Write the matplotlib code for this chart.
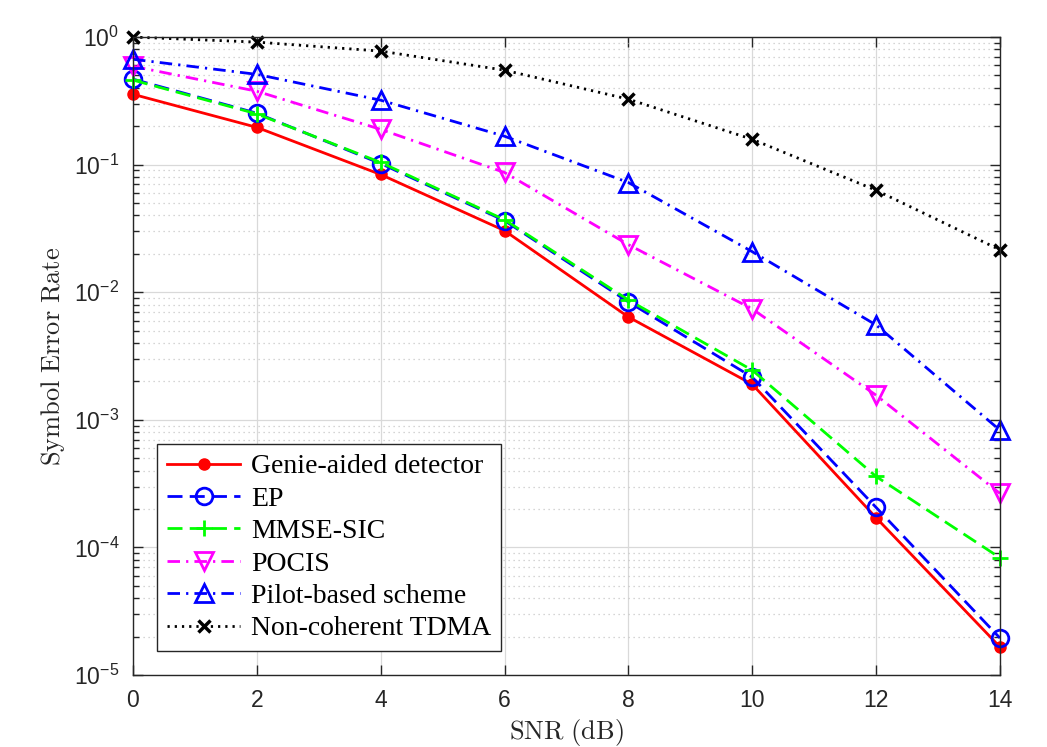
import matplotlib
matplotlib.use("Agg")
import matplotlib.pyplot as plt
import numpy as np
from matplotlib.ticker import LogLocator, NullFormatter, FixedLocator

plt.rcParams['font.family'] = ['Liberation Sans', 'DejaVu Sans']
plt.rcParams['mathtext.fontset'] = 'cm'

snr = [0, 2, 4, 6, 8, 10, 12, 14]
genie = [0.356, 0.196, 0.0837, 0.0304, 0.0064, 0.0019, 1.71e-4, 1.66e-5]
ep = [0.468, 0.253, 0.102, 0.0364, 0.0084, 0.00216, 2.06e-4, 1.95e-5]
mmse_sic = [0.46, 0.25, 0.104, 0.037, 0.0087, 0.00245, 3.6e-4, 8.3e-5]
pocis = [0.59, 0.376, 0.189, 0.0868, 0.0236, 0.0074, 0.00156, 2.65e-4]
pilot = [0.67, 0.51, 0.32, 0.167, 0.0724, 0.0208, 0.00554, 8.3e-4]
tdma = [1.0, 0.913, 0.776, 0.55, 0.326, 0.158, 0.063, 0.0215]

labels = ['Genie-aided detector', 'EP', 'MMSE-SIC', 'POCIS',
          'Pilot-based scheme', 'Non-coherent TDMA']
xticks = [0, 2, 4, 6, 8, 10, 12, 14]

fig = plt.figure(figsize=(10.47, 7.47), dpi=100)
ax = fig.add_axes([0.127, 0.0964, 0.828, 0.854])

lw = 2.0
common = dict(lw=lw, zorder=3, clip_on=False)
ax.plot(snr, genie, color='#ff0000', marker='o', ms=8,
        mfc='#ff0000', mec='#ff0000', label=labels[0], **common)
ax.plot(snr, ep, color='#0000ff', dashes=(5.4, 2.6), marker='o', ms=12,
        mfc='none', mec='#0000ff', mew=2, label=labels[1], **common)
ax.plot(snr, mmse_sic, color='#00ff00', dashes=(5.4, 2.6), marker='+', ms=12,
        mec='#00ff00', mew=2, label=labels[2], **common)
ax.plot(snr, pocis, color='#ff00ff', dashes=(4.5, 2.2, 0.8, 2.2), marker='v', ms=13,
        mfc='none', mec='#ff00ff', mew=2, label=labels[3], **common)
ax.plot(snr, pilot, color='#0000ff', dashes=(4.5, 2.2, 0.8, 2.2), marker='^', ms=13,
        mfc='none', mec='#0000ff', mew=2, label=labels[4], **common)
ax.plot(snr, tdma, color='black', dashes=(0.8, 1.8), marker='x', ms=9,
        mec='black', mew=2.5, label=labels[5], **common)

ax.set_yscale('log')
ax.set_xlim(0, 14)
ax.set_ylim(1e-5, 1)
ax.xaxis.set_major_locator(FixedLocator(xticks))
ax.yaxis.set_major_locator(LogLocator(base=10, numticks=10))
ax.yaxis.set_minor_locator(LogLocator(base=10, subs=np.arange(2, 10), numticks=20))
ax.yaxis.set_minor_formatter(NullFormatter())

ax.grid(True, which='major', color='#d9d9d9', lw=0.9, ls='-')
ax.grid(True, which='minor', axis='y', color='#c8c8c8', lw=0.9, ls=(0, (1, 3)))
ax.set_axisbelow(True)

ax.tick_params(which='both', direction='in', top=True, right=True,
               labelsize=16.5, colors='#262626', width=1)
ax.tick_params(which='major', length=7, pad=10)
ax.tick_params(which='minor', length=4)
for sp in ax.spines.values():
    sp.set_color('#262626')
    sp.set_linewidth(1)
    sp.set_zorder(4)

ax.set_xlabel(r'$\mathrm{SNR\ (dB)}$', fontsize=19, color='#262626', labelpad=4)
ax.set_ylabel(r'$\mathrm{Symbol\ Error\ Rate}$', fontsize=19, color='#262626', labelpad=5)

leg = ax.legend(loc='lower left', bbox_to_anchor=(0.0277, 0.0376), borderaxespad=0,
                prop={'family': 'Liberation Serif', 'size': 20}, fancybox=False,
                framealpha=1, edgecolor='#262626', handlelength=2.65,
                handletextpad=0.4, labelspacing=0.25, borderpad=0.35)
leg.get_frame().set_linewidth(1)
leg.set_zorder(5)

fig.savefig('out.png', dpi=100)
